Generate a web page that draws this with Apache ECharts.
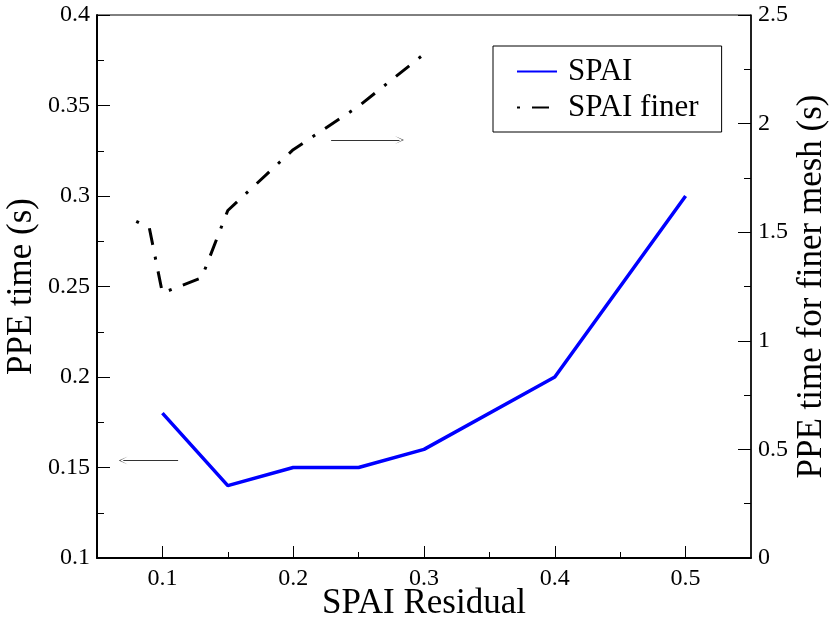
<!DOCTYPE html>
<html>
<head>
<meta charset="utf-8">
<script src="https://cdn.jsdelivr.net/npm/echarts@6/dist/echarts.min.js"></script>
<style>html,body{margin:0;padding:0;background:#fff}#c{width:830px;height:622px}</style>
</head>
<body>
<div id="c"></div>
<script>
// ---- data ----
const spaiX = [0.1, 0.15, 0.2, 0.25, 0.3, 0.4, 0.5];
const spaiY = [0.18, 0.14, 0.15, 0.15, 0.16, 0.2, 0.3];
const finerX = [0.08, 0.09, 0.1, 0.13, 0.15, 0.2, 0.25, 0.3];
const finerY = [1.55, 1.52, 1.22, 1.29, 1.6, 1.88, 2.08, 2.32];
const xMajorTicks = [0.1, 0.2, 0.3, 0.4, 0.5];
const xMinorTicks = [0.15, 0.25, 0.35, 0.45];
const leftArrow = [[0.112, 0.1538], [0.0701, 0.1538]];
const rightArrow = [[0.229, 1.924], [0.2812, 1.924]];
const seriesNames = ['SPAI', 'SPAI finer'];

const FONT = 'Liberation Serif';
const chart = echarts.init(document.getElementById('c'));
const arrowSym = 'path://M0,10 L5,0 L10,10 L5,1.6 Z';
function arrowLine(a) {
  return {
    silent: true, animation: false,
    symbol: ['none', arrowSym], symbolSize: [8, 9],
    lineStyle: { color: '#333', width: 1, type: 'solid' },
    label: { show: false },
    data: [[{ coord: a[0] }, { coord: a[1] }]]
  };
}
const tickLab = { color: '#000', fontFamily: FONT, fontSize: 24 };
const titleStyle = { color: '#000', fontFamily: FONT, fontSize: 35 };
chart.setOption({
  animation: false,
  grid: { left: 97, right: 79, top: 15, bottom: 64, containLabel: false, outerBoundsMode: 'none',
          show: true, borderColor: '#000', borderWidth: 1 },
  legend: {
    orient: 'vertical', left: 493, top: 46,
    data: seriesNames,
    backgroundColor: '#fff', borderColor: '#000', borderWidth: 1,
    padding: [10, 23, 9, 23], itemGap: 5, itemWidth: 40, itemHeight: 20,
    itemStyle: { opacity: 0 },
    textStyle: { color: '#000', fontFamily: FONT, fontSize: 31, padding: [0, 0, 0, 6] }
  },
  xAxis: [{
    type: 'value', min: 0.05, max: 0.55, position: 'bottom',
    name: 'SPAI Residual', nameLocation: 'middle', nameGap: 28, nameMoveOverlap: false,
    nameTextStyle: titleStyle,
    axisLine: { show: true, lineStyle: { color: '#000', width: 2 } },
    axisTick: { show: true, inside: true, length: 12, customValues: xMajorTicks, lineStyle: { color: '#000' } },
    axisLabel: { customValues: xMajorTicks, ...tickLab, margin: 9 },
    splitLine: { show: false }
  }, {
    type: 'value', min: 0.05, max: 0.55, position: 'bottom',
    axisLine: { show: false },
    axisTick: { show: true, inside: true, length: 6, customValues: xMinorTicks, lineStyle: { color: '#000' } },
    axisLabel: { show: false },
    splitLine: { show: false }
  }],
  yAxis: [{
    type: 'value', min: 0.1, max: 0.4, interval: 0.05, position: 'left',
    name: 'PPE time (s)', nameLocation: 'middle', nameGap: 58, nameMoveOverlap: false,
    nameTextStyle: titleStyle,
    axisLine: { show: true, lineStyle: { color: '#000', width: 2 } },
    axisTick: { show: true, inside: true, length: 13, lineStyle: { color: '#000' } },
    minorTick: { show: true, splitNumber: 2, length: 7, lineStyle: { color: '#000' } },
    axisLabel: { ...tickLab, margin: 7 },
    splitLine: { show: false }
  }, {
    type: 'value', min: 0, max: 2.5, interval: 0.5, position: 'right',
    name: 'PPE time for finer mesh (s)', nameLocation: 'middle', nameGap: 43, nameMoveOverlap: false,
    nameTextStyle: titleStyle,
    axisLine: { show: true, lineStyle: { color: '#000', width: 1.5 } },
    axisTick: { show: true, inside: true, length: 13, lineStyle: { color: '#000' } },
    minorTick: { show: true, splitNumber: 2, length: 7, lineStyle: { color: '#000' } },
    axisLabel: { ...tickLab, margin: 7 },
    splitLine: { show: false }
  }],
  series: [{
    name: seriesNames[0], type: 'line', xAxisIndex: 0, yAxisIndex: 0,
    data: spaiX.map((x, i) => [x, spaiY[i]]),
    symbol: 'none', color: '#0000ff',
    lineStyle: { color: '#0000ff', width: 3.5 },
    markLine: arrowLine(leftArrow)
  }, {
    name: seriesNames[1], type: 'line', xAxisIndex: 0, yAxisIndex: 1,
    data: finerX.map((x, i) => [x, finerY[i]]),
    symbol: 'none', color: '#000',
    lineStyle: { color: '#000', width: 3, type: [3, 12, 17, 12] },
    markLine: arrowLine(rightArrow)
  }]
});
</script>
</body>
</html>
